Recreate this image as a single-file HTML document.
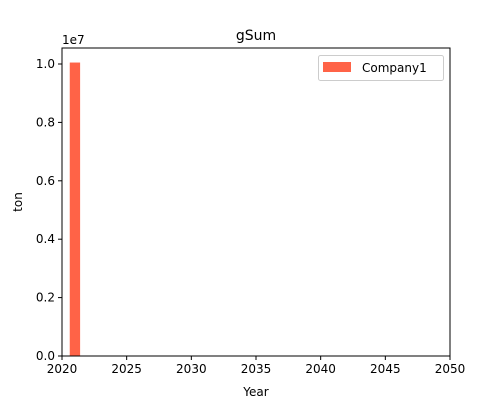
<!DOCTYPE html>
<html><head><meta charset="utf-8"><style>
body{margin:0;background:#fff;font-family:"DejaVu Sans","Liberation Sans",sans-serif;}
svg text{font-family:"DejaVu Sans","Liberation Sans",sans-serif;}
</style></head><body>
<svg id="chart" width="500" height="400" viewBox="0 0 500 400">
<rect width="500" height="400" fill="#fff"/>
<g id="marks"></g>
<g id="axes"></g>
</svg>
<script>
const categories = [2021];
const values = [10050000];
const xTicks = [2020, 2025, 2030, 2035, 2040, 2045, 2050];
const yTicks = [0, 0.2, 0.4, 0.6, 0.8, 1.0];

const L = 62, R = 450, T = 48, B = 356;
const xMin = 2020, xMax = 2050, yMin = 0, yMax = 10548000;
const xs = v => L + (v - xMin) / (xMax - xMin) * (R - L);
const ys = v => B - (v - yMin) / (yMax - yMin) * (B - T);
const NS = "http://www.w3.org/2000/svg";
function mk(tag, attrs, parent, text) {
  const e = document.createElementNS(NS, tag);
  for (const k in attrs) e.setAttribute(k, attrs[k]);
  if (text !== undefined) e.textContent = text;
  parent.appendChild(e);
  return e;
}
const marks = document.getElementById('marks');
const axes = document.getElementById('axes');
categories.forEach((c, i) => {
  const x0 = xs(c - 0.4), x1 = xs(c + 0.4);
  const r = mk('rect', {x: x0, y: ys(values[i]), width: x1 - x0, height: ys(0) - ys(values[i]), fill: '#ff6347'}, marks);
  
  
});
const frame = mk('rect', {x: L, y: T, width: R - L, height: B - T, fill: 'none', stroke: '#000', 'stroke-width': 1}, axes);


xTicks.forEach(t => {
  const x = xs(t);
  mk('line', {x1: x, x2: x, y1: B, y2: B + 4, stroke: '#000'}, axes);
  const tx = mk('text', {x: x, y: B + 17, 'text-anchor': 'middle', 'font-size': 12}, axes, t);
  
  
});
yTicks.forEach(t => {
  const y = ys(t * 1e7);
  mk('line', {x1: L - 4, x2: L, y1: y, y2: y, stroke: '#000'}, axes);
  const tx = mk('text', {x: L - 7, y: y + 4, 'text-anchor': 'end', 'font-size': 12}, axes, t.toFixed(1));
  
  
});
</script>
<svg style="position:absolute;left:0;top:0" width="500" height="400">
<text x="62" y="44" font-size="12">1e7</text>
<text x="256" y="40" font-size="14" text-anchor="middle">gSum</text>
<text x="256" y="396" font-size="12" text-anchor="middle">Year</text>
<text x="22" y="202" font-size="12" text-anchor="middle" transform="rotate(-90 22 202)">ton</text>
<g>
<rect x="318.5" y="55.5" width="125" height="25" rx="2" fill="#fff" stroke="#ccc"/>
<rect x="323" y="62" width="28" height="10" fill="#ff6347"/>
<text x="362" y="72" font-size="12">Company1</text>
</g>
</svg>
</body></html>
